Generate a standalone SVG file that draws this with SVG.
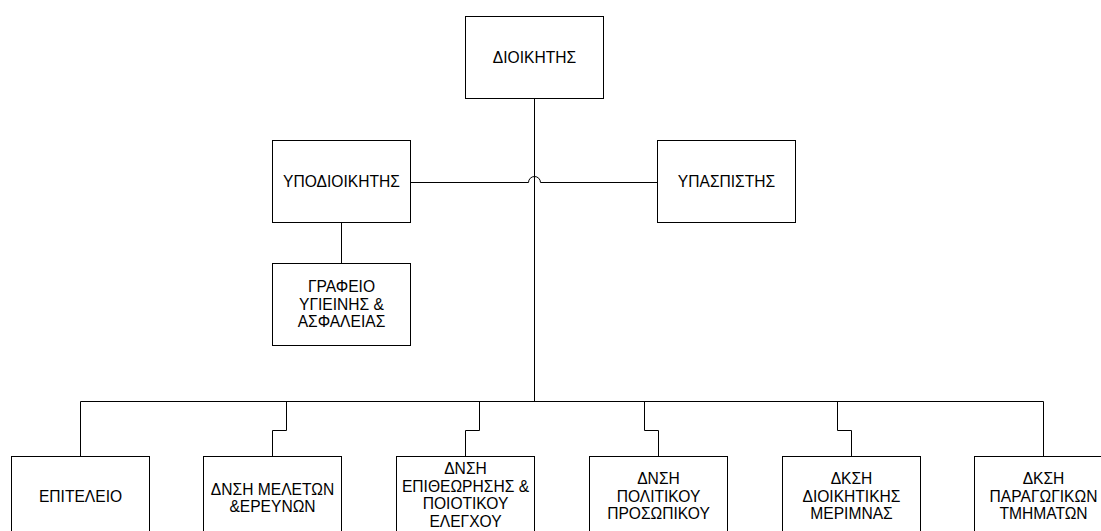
<svg xmlns="http://www.w3.org/2000/svg" width="1101" height="531" viewBox="0 0 1101 531">
<style>
.box{fill:#fff;stroke:#000;stroke-width:1}
.t{font-family:"Liberation Sans",Arial,sans-serif;font-size:15.6px;fill:#000;text-anchor:middle}
.c{fill:none;stroke:#000;stroke-width:1}
</style>
<rect width="1101" height="531" fill="#fff"/>
<g id="connectors">
<path class="c" d="M534.5,99 V401.5"/>
<path class="c" d="M410,182.5 H528.5 A6,6 0 0 1 540.5,182.5 H657"/>
<path class="c" d="M341.5,222 V263"/>
<path class="c" d="M80.5,401.5 H1043.5"/>
<path class="c" d="M80.5,401.5 V456"/>
<path class="c" d="M286.5,401.5 V430.5 H272.5 V456"/>
<path class="c" d="M479.5,401.5 V430.5 H465.5 V456"/>
<path class="c" d="M644.5,401.5 V430.5 H658.5 V456"/>
<path class="c" d="M837.5,401.5 V430.5 H851.5 V456"/>
<path class="c" d="M1043.5,401.5 V456"/>
</g>
<g id="n-dioikitis">
<rect class="box" x="465.5" y="16.5" width="138" height="82"/>
<text class="t" x="534.5" y="63">ΔΙΟΙΚΗΤΗΣ</text>
</g>
<g id="n-ypodioikitis">
<rect class="box" x="272.5" y="140.5" width="138" height="82"/>
<text class="t" x="341.5" y="187">ΥΠΟΔΙΟΙΚΗΤΗΣ</text>
</g>
<g id="n-ypaspistis">
<rect class="box" x="657.5" y="140.5" width="138" height="82"/>
<text class="t" x="726.5" y="187">ΥΠΑΣΠΙΣΤΗΣ</text>
</g>
<g id="n-grafeio">
<rect class="box" x="272.5" y="263.5" width="138" height="82"/>
<text class="t" x="341.5" y="292">ΓΡΑΦΕΙΟ</text>
<text class="t" x="341.5" y="309.6">ΥΓΙΕΙΝΗΣ &amp;</text>
<text class="t" x="341.5" y="327.2">ΑΣΦΑΛΕΙΑΣ</text>
</g>
<g id="n-epiteleio">
<rect class="box" x="11.5" y="456.5" width="138" height="82"/>
<text class="t" x="80.5" y="502">ΕΠΙΤΕΛΕΙΟ</text>
</g>
<g id="n-meleton">
<rect class="box" x="203.5" y="456.5" width="138" height="82"/>
<text class="t" x="272.5" y="494.7">ΔΝΣΗ ΜΕΛΕΤΩΝ</text>
<text class="t" x="272.5" y="512.3">&amp;ΕΡΕΥΝΩΝ</text>
</g>
<g id="n-epitheorisis">
<rect class="box" x="396.5" y="456.5" width="138" height="82"/>
<text class="t" x="465.5" y="474">ΔΝΣΗ</text>
<text class="t" x="465.5" y="491.6">ΕΠΙΘΕΩΡΗΣΗΣ &amp;</text>
<text class="t" x="465.5" y="509.2">ΠΟΙΟΤΙΚΟΥ</text>
<text class="t" x="465.5" y="526.8">ΕΛΕΓΧΟΥ</text>
</g>
<g id="n-politikou">
<rect class="box" x="589.5" y="456.5" width="138" height="82"/>
<text class="t" x="658.5" y="484">ΔΝΣΗ</text>
<text class="t" x="658.5" y="501.6">ΠΟΛΙΤΙΚΟΥ</text>
<text class="t" x="658.5" y="519.2">ΠΡΟΣΩΠΙΚΟΥ</text>
</g>
<g id="n-merimnas">
<rect class="box" x="782.5" y="456.5" width="138" height="82"/>
<text class="t" x="851.5" y="484">ΔΚΣΗ</text>
<text class="t" x="851.5" y="501.6">ΔΙΟΙΚΗΤΙΚΗΣ</text>
<text class="t" x="851.5" y="519.2">ΜΕΡΙΜΝΑΣ</text>
</g>
<g id="n-paragogikon">
<rect class="box" x="974.5" y="456.5" width="138" height="82"/>
<text class="t" x="1043.5" y="484">ΔΚΣΗ</text>
<text class="t" x="1043.5" y="501.6">ΠΑΡΑΓΩΓΙΚΩΝ</text>
<text class="t" x="1043.5" y="519.2">ΤΜΗΜΑΤΩΝ</text>
</g>
</svg>
